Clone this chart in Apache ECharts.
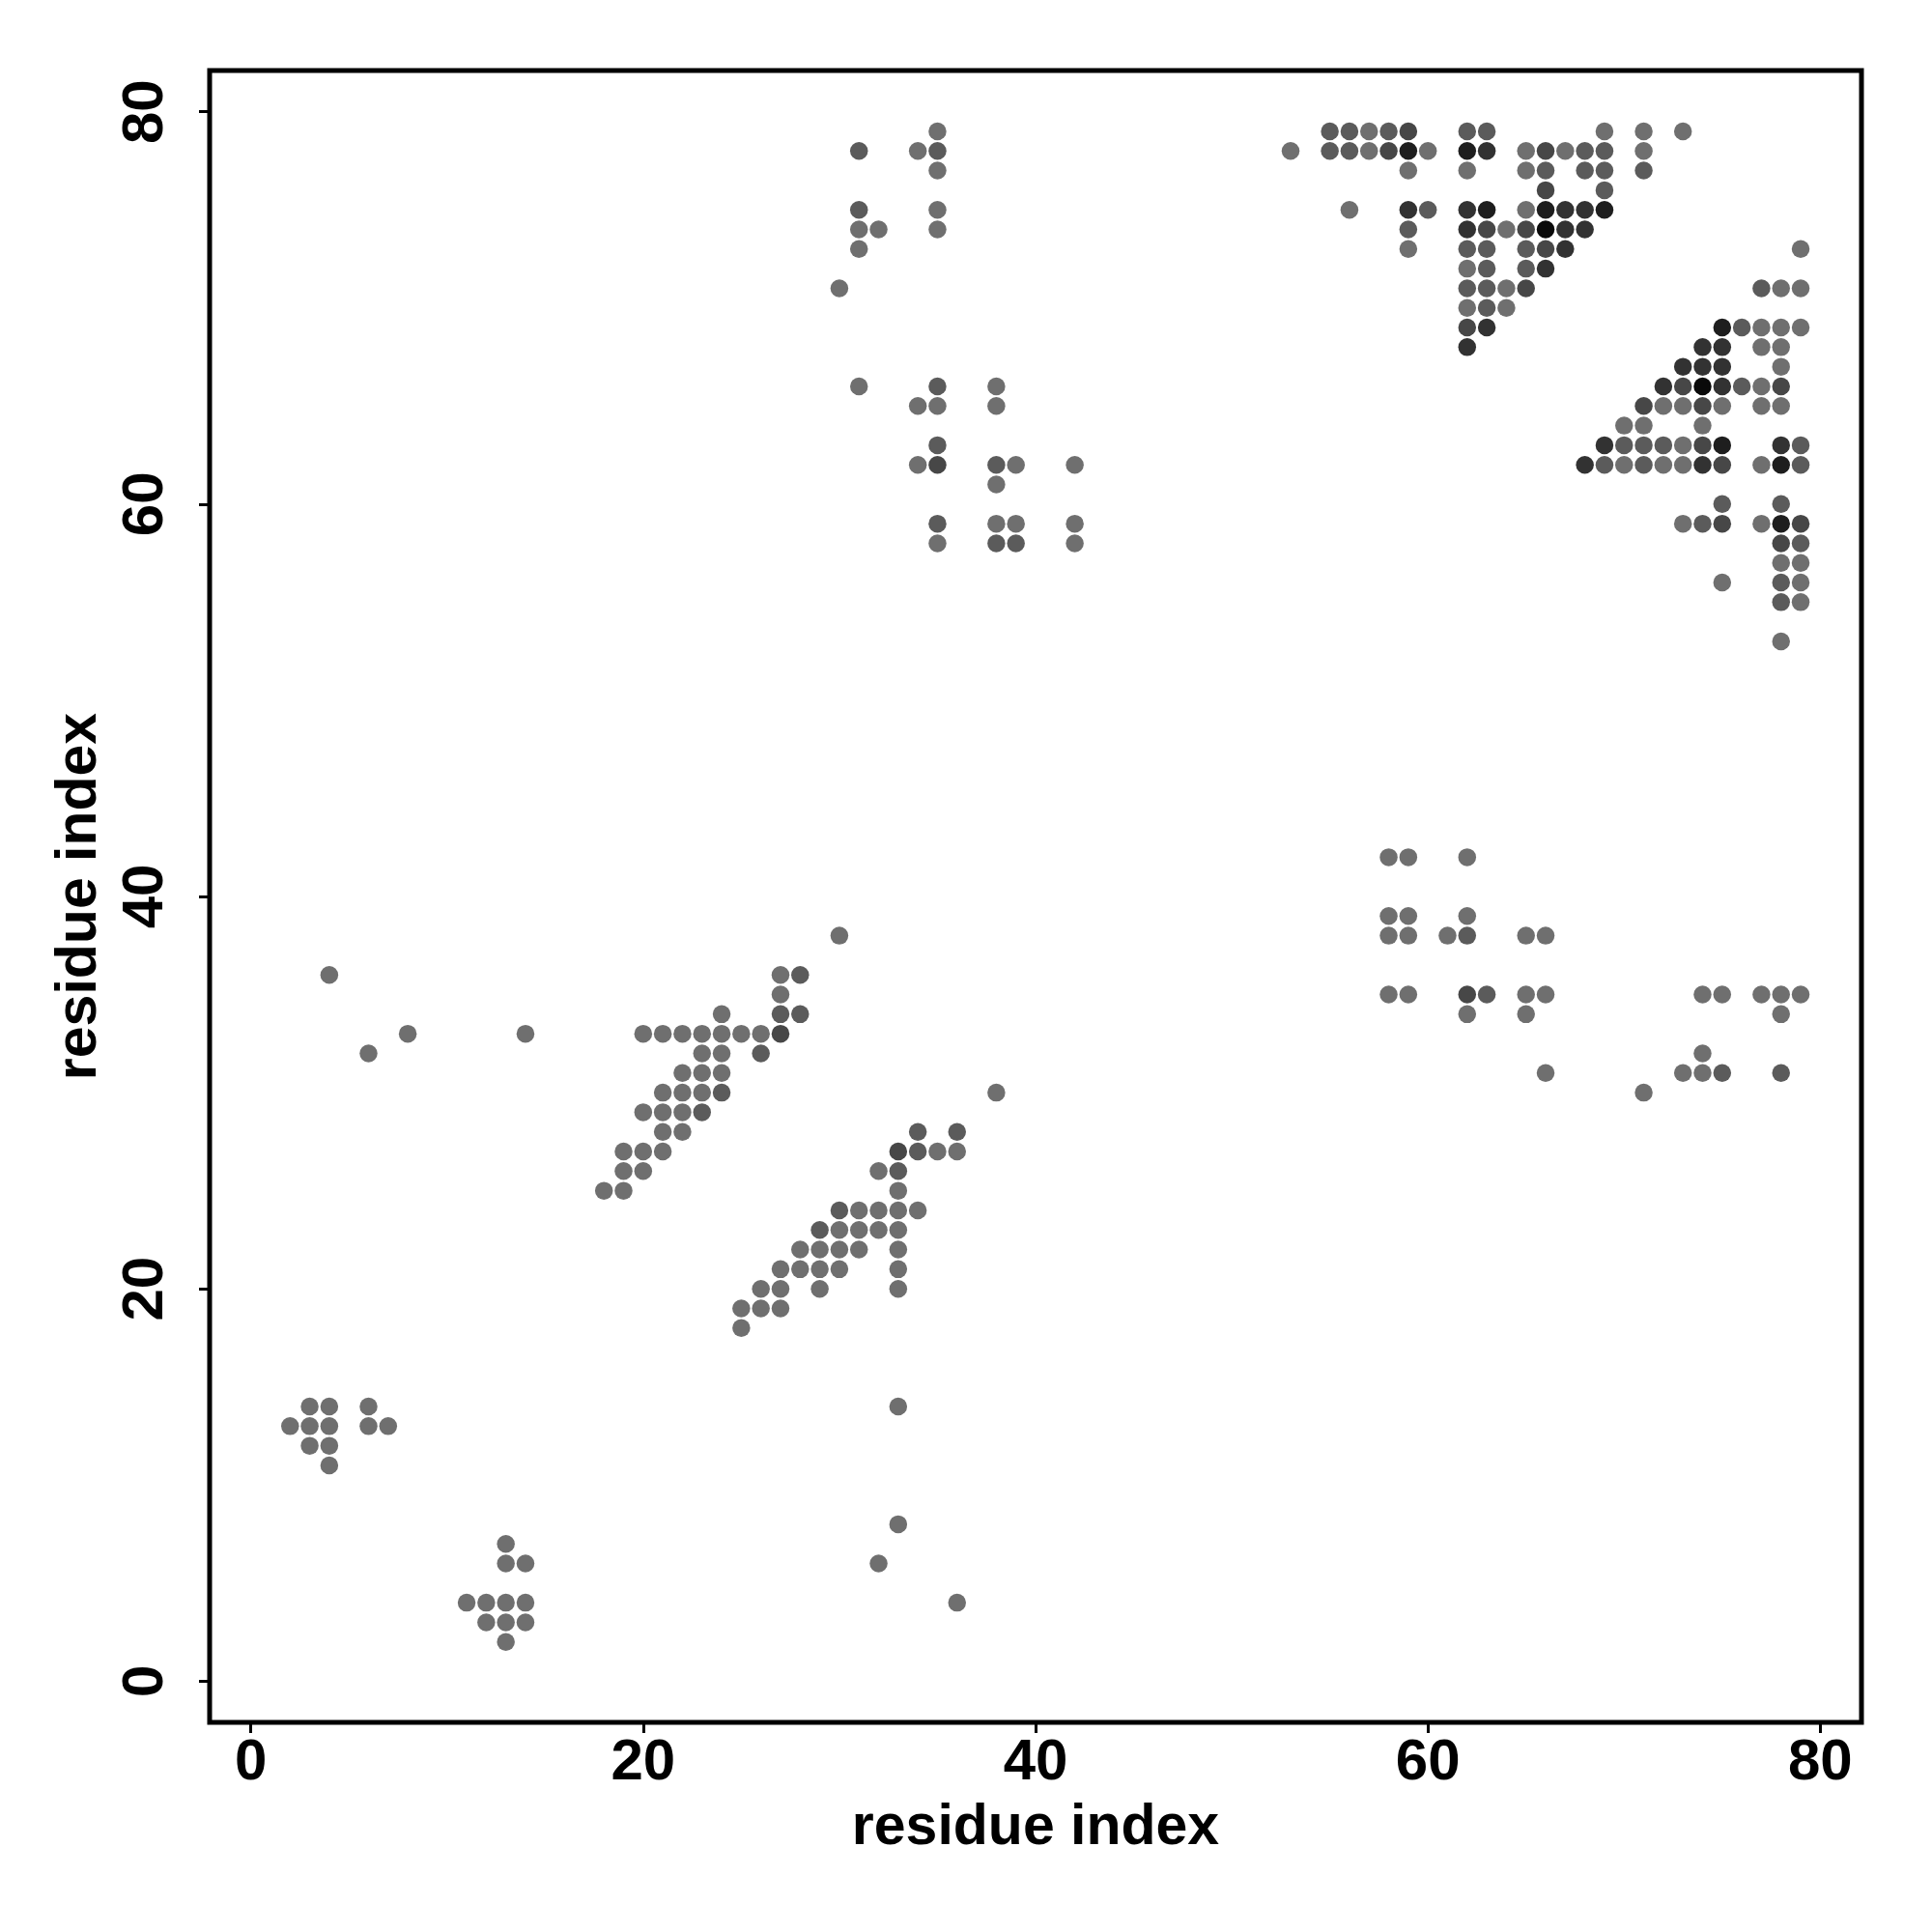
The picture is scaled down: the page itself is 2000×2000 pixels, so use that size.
<!DOCTYPE html>
<html>
<head>
<meta charset="utf-8">
<script src="https://cdn.jsdelivr.net/npm/echarts@6/dist/echarts.min.js"></script>
<style>
html,body{margin:0;padding:0;background:#fff;}
#chart{width:2000px;height:2000px;}
</style>
</head>
<body>
<div id="chart"></div>
<script>
// residue i (x), residue j (y), and darkness level (0 = single contact, 5 = strongest overlap)
const contactX = [
  3,4,6, 2,3,4,6,7, 3,4, 4,
  13, 13,14, 11,12,13,14, 12,13,14, 13,
  4, 6, 8, 14, 30, 38, 33, 33, 32, 36,
  27,28, 27, 24,27,28, 20,21,22,23,24,25,26,27, 23,24,26, 22,23,24, 21,22,23,24, 20,21,22,23, 21,22, 19,20,21, 19,20, 18,19,
  34,36, 33,34,35,36, 32,33, 33, 30,31,32,33,34, 29,30,31,32,33, 28,29,30,31,33, 27,28,29,30,33, 26,27,29,33, 25,26,27, 25,
  35, 31,34,35, 35, 31,35, 31,32,35, 31, 30,
  31,35,38, 34,35,38, 35, 34,35,38,39,42, 38, 35,38,39,42, 35,38,39,42,
  58,59,62, 58,59,62, 58,59,61,62,65,66, 58,59,62,63,65,66,74,75,77,78,79, 62,65,78, 74, 66,73,74,75,78, 71,
  55,56,57,58,59,62,63,69,71,73,
  53,55,56,57,58,59,60,62,63,65,66,67,68,69,71,
  59,62,65,66,68,69,71,
  66,69,
  56,59,60,62,63,65,66,67,68,69,
  59,62,63,64,65,66,67,68,
  59,62,63,65,66,67,79,
  62,63,65,66,
  62,63,64,65,77,78,79,
  62,63,64,
  62,63,75,76,77,78,79,
  62,74,75,77,78,
  73,74,75,78,
  72,73,74,75,76,77,78,
  71,72,73,74,75,77,78,
  70,71,74,
  69,70,71,72,73,74,75,78,79,
  68,69,70,71,72,73,74,75,77,78,79,
  75,78,
  73,74,75,77,78,79,
  78,79, 78,79, 75,78,79, 78,79, 78
];
const contactY = [
  14,14,14, 13,13,13,13,13, 12,12, 11,
  7, 6,6, 4,4,4,4, 3,3,3, 2,
  36, 32, 33, 33, 38, 30, 14, 8, 6, 4,
  36,36, 35, 34,34,34, 33,33,33,33,33,33,33,33, 32,32,32, 31,31,31, 30,30,30,30, 29,29,29,29, 28,28, 27,27,27, 26,26, 25,25,
  28,28, 27,27,27,27, 26,26, 25, 24,24,24,24,24, 23,23,23,23,23, 22,22,22,22,22, 21,21,21,21,21, 20,20,20,20, 19,19,19, 18,
  79, 78,78,78, 77, 75,75, 74,74,74, 73, 71,
  66,66,66, 65,65,65, 63, 62,62,62,62,62, 61, 59,59,59,59, 58,58,58,58,
  42,42,42, 39,39,39, 38,38,38,38,38,38, 35,35,35,35,35,35,35,35,35,35,35, 34,34,34, 32, 31,31,31,31,31, 30,
  79,79,79,79,79,79,79,79,79,79,
  78,78,78,78,78,78,78,78,78,78,78,78,78,78,78,
  77,77,77,77,77,77,77,
  76,76,
  75,75,75,75,75,75,75,75,75,75,
  74,74,74,74,74,74,74,74,
  73,73,73,73,73,73,73,
  72,72,72,72,
  71,71,71,71,71,71,71,
  70,70,70,
  69,69,69,69,69,69,69,
  68,68,68,68,68,
  67,67,67,67,
  66,66,66,66,66,66,66,
  65,65,65,65,65,65,65,
  64,64,64,
  63,63,63,63,63,63,63,63,63,
  62,62,62,62,62,62,62,62,62,62,62,
  60,60,
  59,59,59,59,59,59,
  58,58, 57,57, 56,56,56, 55,55, 53
];
const contactShade = [
  0,0,0, 0,0,0,0,0, 0,0, 0,
  0, 0,0, 0,0,0,0, 0,0,0, 0,
  0, 0, 0, 0, 0, 0, 0, 0, 0, 0,
  0,1, 0, 0,1,1, 0,0,0,0,0,0,0,2, 0,0,1, 0,0,0, 0,0,0,1, 0,0,0,1, 0,0, 0,0,0, 0,0, 0,0,
  1,1, 2,1,0,0, 0,1, 0, 1,0,0,0,0, 1,0,0,0,0, 0,0,0,0,0, 0,0,0,0,0, 0,0,0,0, 0,0,0, 0,
  0, 1,0,1, 0, 1,0, 0,0,0, 0, 0,
  0,1,0, 0,0,0, 1, 0,2,1,0,0, 0, 1,0,0,0, 0,1,1,0,
  0,0,0, 0,0,0, 0,0,0,1,0,0, 0,0,2,1,0,0,0,0,0,0,0, 0,0,0, 0, 0,0,0,1,1, 0,
  1,1,0,1,2,1,1,0,0,0,
  0,1,1,0,2,4,0,4,3,0,2,0,1,1,0,
  0,0,0,1,1,1,1,
  2,1,
  0,3,1,3,4,0,4,3,3,4,
  1,3,2,0,2,5,3,3,
  0,1,1,1,2,3,0,
  0,1,1,3,
  1,1,0,2,1,0,0,
  0,1,0,
  2,3,4,1,0,0,0,
  3,3,3,0,0,
  3,3,3,0,
  3,2,5,3,1,0,2,
  2,0,0,2,0,0,0,
  0,0,0,
  3,1,1,1,0,2,4,3,1,
  3,1,0,1,0,0,3,2,0,4,1,
  1,1,
  0,1,2,0,4,2,
  2,1, 0,0, 0,1,0, 1,0, 0
];
const tickValues = [0, 20, 40, 60, 80];
const axisTitle = 'residue index';

const points = contactX.map((x, i) => [x, contactY[i], contactShade[i]]);

const chart = echarts.init(document.getElementById('chart'), null, {renderer: 'canvas'});
const font = '"Liberation Sans", Arial, Helvetica, sans-serif';
const labelStyle = {fontFamily: font, fontWeight: 'bold', fontSize: 60, color: '#000'};
chart.setOption({
  animation: false,
  backgroundColor: '#fff',
  grid: {left: 217, top: 73, width: 1710, height: 1710, show: true, borderColor: '#000', borderWidth: 5, backgroundColor: 'transparent'},
  visualMap: {show: false, type: 'continuous', dimension: 2, min: 0, max: 5, inRange: {color: ['#6f6f6f', '#0a0a0a']}},
  xAxis: {
    type: 'value', min: -2.1, max: 82.1,
    name: axisTitle, nameLocation: 'middle', nameGap: 80,
    nameTextStyle: {fontFamily: font, fontWeight: 'bold', fontSize: 59, color: '#000'},
    axisLine: {show: false, onZero: false},
    splitLine: {show: false},
    axisTick: {show: true, length: 11, inside: false, customValues: tickValues, lineStyle: {color: '#000', width: 3}},
    axisLabel: Object.assign({margin: 12, customValues: tickValues}, labelStyle)
  },
  yAxis: {
    type: 'value', min: -2.1, max: 82.1,
    name: axisTitle, nameLocation: 'middle', nameGap: 105, nameRotate: 90,
    nameTextStyle: {fontFamily: font, fontWeight: 'bold', fontSize: 59, color: '#000'},
    axisLine: {show: false, onZero: false},
    splitLine: {show: false},
    axisTick: {show: true, length: 11, inside: false, customValues: tickValues, lineStyle: {color: '#000', width: 3}},
    axisLabel: Object.assign({margin: 36, rotate: 90, customValues: tickValues}, labelStyle)
  },
  series: [{
    type: 'scatter',
    symbol: 'circle',
    symbolSize: 18.5,
    data: points,
    itemStyle: {opacity: 1}
  }]
});
</script>
</body>
</html>
